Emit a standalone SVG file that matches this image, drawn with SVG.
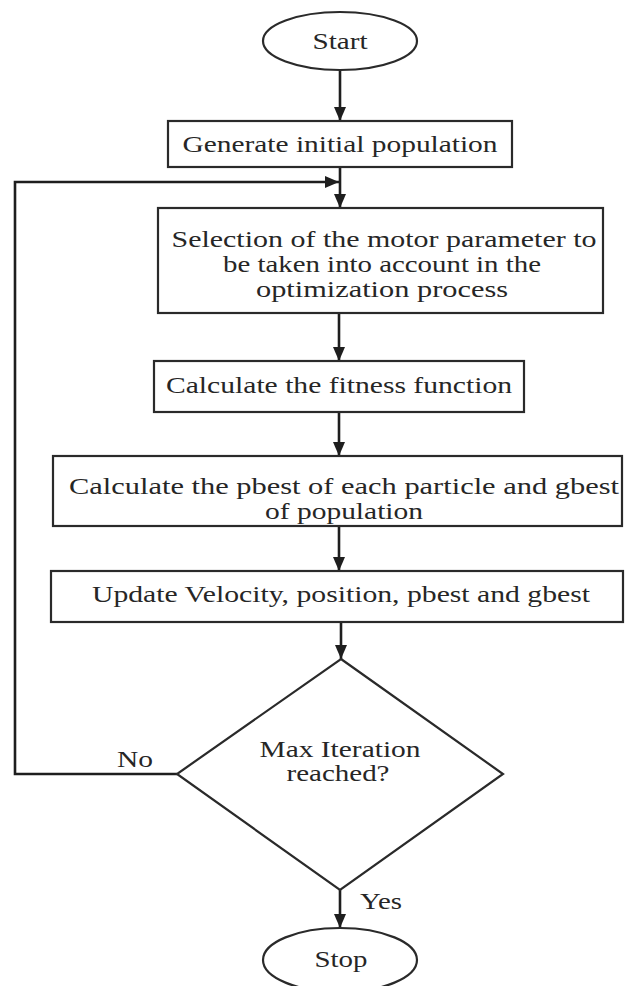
<svg xmlns="http://www.w3.org/2000/svg" width="625" height="986" viewBox="0 0 625 986">
<style>
.shape{fill:#fff;stroke:#2a2a2a;stroke-width:2.2}
.t{font-family:'Liberation Serif','Times New Roman',Times,serif;font-size:23.5px;fill:#262626;text-anchor:middle}
.tl{text-anchor:start}
.c{fill:none;stroke:#1e1e1e;stroke-width:2.6}
</style>
<defs>
<marker id="ah" viewBox="0 0 14 12" refX="14" refY="6" markerWidth="14" markerHeight="12" markerUnits="userSpaceOnUse" orient="auto">
<path d="M0,0 L14,6 L0,12 z" fill="#1e1e1e"/>
</marker>
</defs>
<rect width="625" height="986" fill="#fff"/>
<g id="connectors">
<line class="c" x1="340" y1="70" x2="340" y2="121" marker-end="url(#ah)"/>
<line class="c" x1="340" y1="167" x2="340" y2="208" marker-end="url(#ah)"/>
<polyline class="c" points="177,774 15,774 15,182 339,182" marker-end="url(#ah)"/>
<line class="c" x1="339" y1="313" x2="339" y2="361" marker-end="url(#ah)"/>
<line class="c" x1="339" y1="412" x2="339" y2="456" marker-end="url(#ah)"/>
<line class="c" x1="339" y1="526" x2="339" y2="571" marker-end="url(#ah)"/>
<line class="c" x1="341" y1="622" x2="341" y2="659" marker-end="url(#ah)"/>
<line class="c" x1="340" y1="890" x2="340" y2="928" marker-end="url(#ah)"/>
<text class="t tl" x="117" y="767" textLength="36" lengthAdjust="spacingAndGlyphs">No</text>
<text class="t tl" x="360" y="909" textLength="42" lengthAdjust="spacingAndGlyphs">Yes</text>
</g>
<g id="start">
<ellipse class="shape" cx="340" cy="41" rx="77" ry="29"/>
<text class="t" x="340" y="49" textLength="55" lengthAdjust="spacingAndGlyphs">Start</text>
</g>
<g id="generate">
<rect class="shape" x="168" y="121" width="344" height="46"/>
<text class="t" x="340" y="152" textLength="315" lengthAdjust="spacingAndGlyphs">Generate initial population</text>
</g>
<g id="selection">
<rect class="shape" x="158" y="208" width="445" height="105"/>
<text class="t" x="384" y="247" textLength="425" lengthAdjust="spacingAndGlyphs">Selection of the motor parameter to</text>
<text class="t" x="382" y="272" textLength="318" lengthAdjust="spacingAndGlyphs">be taken into account in the</text>
<text class="t" x="382" y="297" textLength="252" lengthAdjust="spacingAndGlyphs">optimization process</text>
</g>
<g id="fitness">
<rect class="shape" x="154" y="361" width="370" height="51"/>
<text class="t" x="339" y="393" textLength="346" lengthAdjust="spacingAndGlyphs">Calculate the fitness function</text>
</g>
<g id="pbest">
<rect class="shape" x="53" y="456" width="569" height="70"/>
<text class="t" x="344" y="494" textLength="550" lengthAdjust="spacingAndGlyphs">Calculate the pbest of each particle and gbest</text>
<text class="t" x="344" y="519" textLength="158" lengthAdjust="spacingAndGlyphs">of population</text>
</g>
<g id="update">
<rect class="shape" x="51" y="571" width="572" height="51"/>
<text class="t" x="341" y="602" textLength="498" lengthAdjust="spacingAndGlyphs">Update Velocity, position, pbest and gbest</text>
</g>
<g id="decision">
<polygon class="shape" points="341,659 503,774 340,890 177,774"/>
<text class="t" x="340" y="757" textLength="161" lengthAdjust="spacingAndGlyphs">Max Iteration</text>
<text class="t" x="338" y="781" textLength="103" lengthAdjust="spacingAndGlyphs">reached?</text>
</g>
<g id="stop">
<ellipse class="shape" cx="340" cy="960" rx="77" ry="32"/>
<text class="t" x="341" y="967" textLength="53" lengthAdjust="spacingAndGlyphs">Stop</text>
</g>
</svg>
